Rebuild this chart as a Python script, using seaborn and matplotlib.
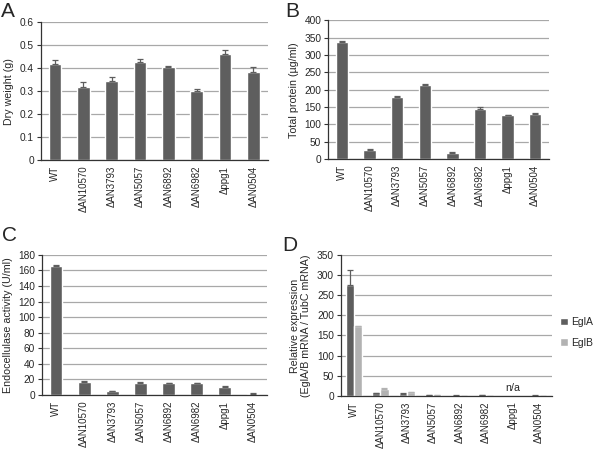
import matplotlib
matplotlib.use("Agg")
import matplotlib.pyplot as plt
import numpy as np
import pandas as pd
import seaborn as sns

strains = ["WT", "ΔAN10570", "ΔAN3793", "ΔAN5057", "ΔAN6892",
           "ΔAN6982", "Δppg1", "ΔAN0504"]

dry_weight = [0.420, 0.318, 0.345, 0.427, 0.403, 0.300, 0.463, 0.383]
dry_weight_err = [0.015, 0.020, 0.018, 0.012, 0.007, 0.010, 0.016, 0.023]

protein = [337, 27, 178, 215, 18, 146, 127, 129]
protein_err = [3, 2, 4, 2, 4, 4, 1, 4]

endocellulase = [166, 17, 5, 15.5, 15, 15, 11, 2]
endocellulase_err = [1, 0.5, 0.5, 0.7, 0.5, 0.5, 0.7, 0.3]

egla = [275, 7, 6, 2, 1, 2, np.nan, 1]
egla_err = [37, 1, 1, 0.5, 0.3, 0.5, np.nan, 0.3]
eglb = [173, 18, 10, 2, 0.5, 0.5, np.nan, 0.5]
eglb_err = [1, 1, 1, 0.5, 0.2, 0.2, np.nan, 0.2]

DARK = "#5e5e5e"
LIGHT = "#b2b2b2"
GRID = "#a8a8a8"

sns.set_style("white")
plt.rcParams["font.family"] = ["Liberation Sans", "DejaVu Sans"]
plt.rcParams["font.size"] = 7


def style_axis(ax, ymax, ystep, ylabel):
    """Common look: horizontal grid, ticks between categories."""
    n = len(strains)
    ax.set_xlim(-0.5, n - 0.5)
    ax.set_ylim(0, ymax)
    ax.set_yticks(np.arange(0, ymax + ystep / 2, ystep))
    ax.yaxis.grid(True, color=GRID, lw=0.9)
    ax.xaxis.grid(False)
    ax.set_axisbelow(True)
    for s in ["top", "right"]:
        ax.spines[s].set_visible(False)
    for s in ["left", "bottom"]:
        ax.spines[s].set_color("#333333")
        ax.spines[s].set_linewidth(0.9)
    ax.set_xticks(np.arange(n))
    ax.set_xticklabels(strains, rotation=90)
    ax.set_xticks(np.arange(-0.5, n), minor=True)
    ax.tick_params(axis="x", which="major", length=0, pad=4, labelsize=7)
    ax.tick_params(axis="x", which="minor", length=3, width=0.8,
                   direction="out", color="#333333")
    ax.tick_params(axis="y", length=3, width=0.8, direction="out",
                   color="#333333", labelsize=7.3, pad=2, left=True)
    ax.set_xlabel("")
    ax.set_ylabel(ylabel, fontsize=7.7, labelpad=4)


def single_bars(ax, values, errs, ymax, ystep, ylabel):
    df = pd.DataFrame({"strain": strains, "value": values})
    sns.barplot(data=df, x="strain", y="value", color=DARK, width=0.45,
                saturation=1, errorbar=None, ax=ax)
    x = np.arange(len(strains))
    ax.errorbar(x, values, yerr=[np.zeros(len(errs)), errs], fmt="none",
                ecolor=DARK, elinewidth=0.9, capsize=2, capthick=0.9)
    style_axis(ax, ymax, ystep, ylabel)


fig = plt.figure(figsize=(6, 4.51), dpi=100)
axA = fig.add_axes([0.068, 0.645, 0.378, 0.306])
axB = fig.add_axes([0.547, 0.647, 0.368, 0.308])
axC = fig.add_axes([0.070, 0.124, 0.375, 0.311])
axD = fig.add_axes([0.568, 0.122, 0.352, 0.313])

single_bars(axA, dry_weight, dry_weight_err, 0.6, 0.1, "Dry weight (g)")
axA.set_yticklabels([f"{v:g}" for v in np.arange(0, 0.65, 0.1).round(1)])
single_bars(axB, protein, protein_err, 400, 50, "Total protein (µg/ml)")
single_bars(axC, endocellulase, endocellulase_err, 180, 20,
            "Endocellulase activity (U/ml)")

# Panel D: grouped bars
dfD = pd.DataFrame({
    "strain": strains * 2,
    "gene": ["EglA"] * len(strains) + ["EglB"] * len(strains),
    "value": egla + eglb,
})
sns.barplot(data=dfD, x="strain", y="value", hue="gene",
            palette=[DARK, LIGHT], width=0.62, saturation=1,
            errorbar=None, ax=axD)
off = 0.62 / 4
x = np.arange(len(strains))
for vals, errs, shift, col in [(egla, egla_err, -off, DARK),
                               (eglb, eglb_err, off, LIGHT)]:
    vals = np.array(vals, dtype=float)
    errs = np.array(errs, dtype=float)
    axD.errorbar(x + shift, vals, yerr=[np.zeros(len(errs)), errs],
                 fmt="none", ecolor=col, elinewidth=0.9, capsize=2,
                 capthick=0.9)
style_axis(axD, 350, 50, "Relative expression\n(EglA/B mRNA / TubC mRNA)")
axD.text(strains.index("Δppg1"), 8, "n/a", ha="center", va="bottom",
         fontsize=7.7)
axD.legend(loc="center left", bbox_to_anchor=(0.995, 0.45), frameon=False,
           fontsize=7.5, handlelength=0.7, handleheight=0.7,
           handletextpad=0.35, labelspacing=1.0)

for label, (lx, ly) in {"A": (0.002, 0.995), "B": (0.476, 0.995),
                        "C": (0.004, 0.499), "D": (0.470, 0.477)}.items():
    fig.text(lx, ly, label, fontsize=15, ha="left", va="top")

fig.savefig("out.png", dpi=100)
